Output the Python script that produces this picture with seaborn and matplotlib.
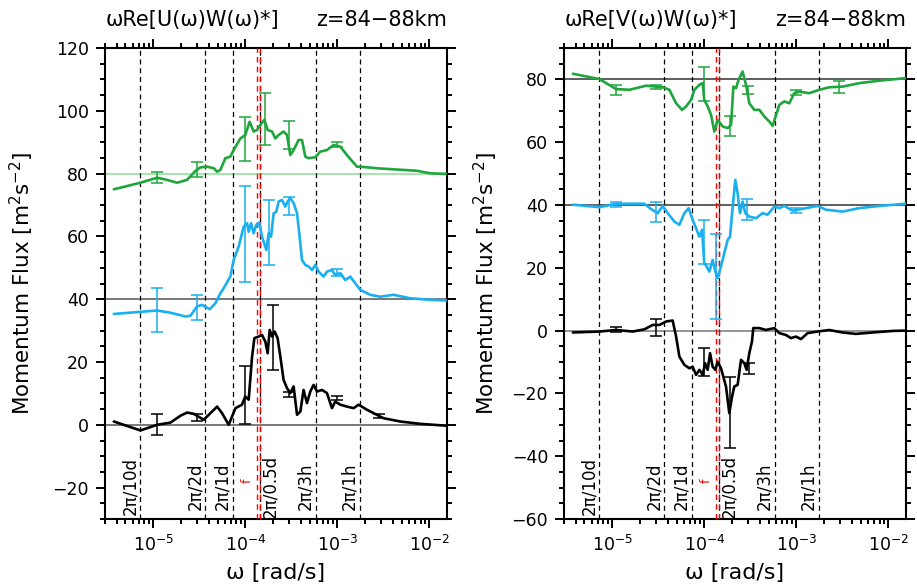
import numpy as np
import pandas as pd
import matplotlib
matplotlib.use("Agg")
import matplotlib.pyplot as plt
import matplotlib.transforms as mtransforms
from matplotlib.ticker import LogLocator, NullFormatter, MultipleLocator
import seaborn as sns

sns.set_style("ticks")
plt.rcParams['font.family'] = ['DejaVu Sans']
plt.rcParams['mathtext.fontset'] = 'dejavusans'
plt.rcParams['text.color'] = 'black'
plt.rcParams['axes.labelcolor'] = 'black'
plt.rcParams['axes.edgecolor'] = 'black'
plt.rcParams['xtick.color'] = 'black'
plt.rcParams['ytick.color'] = 'black'

# ---------------- data (log10 of omega [rad/s], plotted flux values) ----------------
# Left panel: wRe[U W*]
U_green_log10w = [-5.427, -5.138, -4.957, -4.85, -4.740, -4.631, -4.55, -4.487, -4.414, -4.34,
                  -4.306, -4.27, -4.216, -4.162, -4.126, -4.053, -4.0, -3.953, -3.909, -3.872,
                  -3.836, -3.793, -3.757, -3.709, -3.674, -3.638, -3.584, -3.547, -3.511, -3.475,
                  -3.421, -3.384, -3.348, -3.312, -3.24, -3.186, -3.113, -3.041, -2.968, -2.896,
                  -2.787, -2.752, -2.571, -2.137, -1.992, -1.811]
U_green_vals = [75.0, 77.1, 78.7, 78.0, 77.1, 78.0, 80.6, 82.0, 82.2, 81.7,
                80.6, 81.2, 84.9, 85.4, 87.5, 91.2, 92.3, 96.5, 93.4, 93.9,
                95.5, 97.1, 93.9, 93.4, 91.2, 92.3, 93.4, 92.3, 85.9, 87.5,
                90.7, 90.7, 85.4, 84.9, 85.2, 87.0, 87.5, 89.1, 88.6, 85.9,
                82.2, 82.2, 81.7, 80.9, 80.1, 79.9]

U_blue_log10w = [-5.427, -4.957, -4.812, -4.650, -4.596, -4.523, -4.469, -4.386, -4.324, -4.27,
                 -4.234, -4.162, -4.126, -4.072, -4.017, -3.98, -3.963, -3.937, -3.909, -3.88,
                 -3.85, -3.818, -3.771, -3.746, -3.72, -3.692, -3.663, -3.638, -3.601, -3.565,
                 -3.54, -3.511, -3.475, -3.438, -3.41, -3.384, -3.348, -3.312, -3.275, -3.24,
                 -3.204, -3.149, -3.113, -3.059, -3.023, -2.968, -2.914, -2.86, -2.752, -2.643,
                 -2.534, -2.39, -2.21, -1.992, -1.811]
U_blue_vals = [35.3, 36.4, 35.7, 34.5, 34.7, 37.7, 38.2, 36.8, 38.7, 41.9,
               43.5, 47.2, 52.5, 56.7, 63.1, 64.2, 61.5, 64.2, 61.0, 63.7,
               64.4, 59.9, 55.7, 61.0, 59.9, 67.3, 67.9, 71.1, 71.6, 69.5,
               71.1, 72.2, 70.6, 67.4, 59.9, 52.5, 50.9, 50.4, 49.3, 50.9,
               48.8, 47.2, 48.8, 49.3, 47.7, 48.3, 46.1, 47.2, 43.0, 41.4,
               40.8, 41.4, 40.3, 39.8, 39.6]

U_black_log10w = [-5.427, -5.138, -4.957, -4.812, -4.703, -4.631, -4.560, -4.451, -4.306, -4.252,
                  -4.18, -4.107, -4.035, -4.0, -3.963, -3.926, -3.901, -3.855, -3.818, -3.782,
                  -3.757, -3.735, -3.709, -3.681, -3.649, -3.619, -3.584, -3.547, -3.511, -3.475,
                  -3.438, -3.402, -3.367, -3.330, -3.294, -3.258, -3.221, -3.167, -3.113, -3.059,
                  -3.023, -2.968, -2.896, -2.824, -2.77, -2.679, -2.499, -2.317, -2.1, -1.811]
U_black_vals = [1.05, -1.8, 0.0, 0.7, 2.9, 3.9, 3.5, 1.6, 5.8, 3.7,
                0.0, 5.3, 6.4, 9.0, 8.0, 21.7, 27.6, 28.1, 28.6, 26.5,
                22.8, 30.2, 28.1, 29.7, 27.6, 21.7, 14.3, 11.7, 10.1, 12.2,
                3.2, 4.2, 11.1, 6.9, 10.6, 12.7, 10.6, 11.1, 10.1, 5.3,
                7.4, 6.4, 5.8, 5.3, 6.4, 4.8, 2.1, 1.05, 0.3, -0.3]

# error bars (log10 omega, low, high)
U_green_err_log10w = [-4.957, -4.523, -4.0, -3.79, -3.525, -3.004]
U_green_err_lo = [76.9, 79.0, 84.1, 89.1, 87.8, 88.6]
U_green_err_hi = [80.6, 83.8, 97.9, 105.8, 96.9, 90.2]
U_blue_err_log10w = [-4.957, -4.523, -4.0, -3.746, -3.525, -3.004]
U_blue_err_lo = [29.4, 33.4, 45.6, 50.9, 66.8, 47.5]
U_blue_err_hi = [43.7, 41.2, 76.2, 71.6, 72.5, 49.5]
U_black_err_log10w = [-4.957, -4.523, -4.0, -3.698, -3.525, -3.004, -2.553]
U_black_err_lo = [-3.2, 1.3, 0.1, 17.5, 8.7, 8.0, 2.2]
U_black_err_hi = [3.5, 3.5, 18.6, 38.2, 10.3, 9.2, 3.4]

# Right panel: wRe[V W*]
V_green_log10w = [-5.427, -5.138, -4.957, -4.812, -4.631, -4.451, -4.379, -4.306, -4.241, -4.197,
                  -4.143, -4.107, -4.053, -4.017, -4.0, -3.963, -3.926, -3.891, -3.855, -3.8,
                  -3.746, -3.709, -3.684, -3.655, -3.627, -3.584, -3.547, -3.511, -3.457, -3.402,
                  -3.348, -3.294, -3.258, -3.185, -3.131, -3.077, -3.023, -2.968, -2.86, -2.751,
                  -2.643, -2.499, -2.317, -2.1, -1.811]
V_green_vals = [81.8, 80.1, 76.9, 76.7, 78.0, 77.5, 76.7, 72.4, 70.3, 71.4,
                73.5, 76.7, 78.3, 78.8, 73.5, 71.4, 68.7, 63.4, 67.1, 65.0,
                64.5, 65.5, 77.7, 77.2, 79.9, 82.5, 78.3, 72.4, 70.3, 70.3,
                68.2, 66.6, 65.2, 71.9, 73.0, 72.4, 75.6, 76.1, 75.6, 76.7,
                77.5, 77.7, 78.8, 79.6, 80.4]

V_blue_log10w = [-5.427, -5.138, -4.957, -4.65, -4.577, -4.505, -4.451, -4.397, -4.324, -4.27,
                 -4.216, -4.169, -4.126, -4.082, -4.053, -4.024, -4.0, -3.974, -3.945, -3.909,
                 -3.88, -3.855, -3.829, -3.782, -3.746, -3.72, -3.698, -3.663, -3.638, -3.612,
                 -3.584, -3.554, -3.511, -3.438, -3.366, -3.312, -3.24, -3.185, -3.131, -3.041,
                 -2.896, -2.77, -2.679, -2.499, -2.317, -2.1, -1.811]
V_blue_vals = [40.1, 39.3, 40.4, 40.4, 38.7, 37.4, 39.7, 37.4, 34.7, 33.7,
               37.4, 39.0, 35.3, 32.1, 29.9, 32.1, 21.5, 20.4, 18.8, 22.5,
               18.8, 16.7, 19.3, 24.7, 28.9, 29.9, 37.4, 48.0, 43.8, 37.4,
               41.1, 37.4, 36.3, 35.8, 37.4, 36.9, 39.5, 39.0, 39.7, 38.2,
               39.0, 39.7, 38.5, 37.9, 39.0, 39.7, 40.4]

V_black_log10w = [-5.427, -5.138, -4.957, -4.777, -4.65, -4.56, -4.487, -4.414, -4.343, -4.306,
                  -4.27, -4.216, -4.162, -4.126, -4.089, -4.053, -4.017, -3.991, -3.963, -3.937,
                  -3.909, -3.88, -3.855, -3.818, -3.793, -3.764, -3.728, -3.698, -3.674, -3.638,
                  -3.601, -3.565, -3.54, -3.511, -3.482, -3.468, -3.402, -3.33, -3.24, -3.185,
                  -3.113, -3.059, -3.004, -2.95, -2.878, -2.77, -2.643, -2.499, -2.354, -2.173,
                  -1.95, -1.811]
V_black_vals = [-0.6, -0.3, 0.2, -0.3, 0.4, 1.8, 1.8, 2.9, 3.2, -1.9,
                -8.3, -10.9, -12.0, -11.5, -14.1, -12.5, -14.1, -10.4, -12.5, -7.2,
                -11.5, -12.5, -9.9, -12.0, -14.7, -17.8, -26.3, -21.0, -17.8, -17.3,
                -9.3, -10.4, -12.5, -7.2, -3.5, 0.8, 0.8, 0.2, 0.8, -0.8,
                -1.4, -2.4, -1.9, -2.7, -0.8, -0.3, 0.2, -0.6, -1.05, -0.6,
                -0.1, 0.0]

V_green_err_log10w = [-4.957, -4.523, -4.0, -3.72, -3.525, -3.004, -2.535]
V_green_err_lo = [75.1, 76.8, 73.0, 62.1, 75.3, 75.1, 75.8]
V_green_err_hi = [78.3, 78.3, 83.8, 68.5, 78.0, 76.5, 79.6]
V_blue_err_log10w = [-4.957, -4.523, -4.0, -3.872, -3.54, -3.004]
V_blue_err_lo = [39.5, 34.7, 21.2, 3.6, 35.3, 37.4]
V_blue_err_hi = [40.9, 40.9, 35.3, 30.8, 41.9, 39.0]
V_black_err_log10w = [-4.957, -4.523, -4.0, -3.72, -3.511]
V_black_err_lo = [-0.6, -1.6, -14.4, -37.3, -13.8]
V_black_err_hi = [1.1, 3.6, -5.6, -14.8, -10.2]

# reference periods and inertial frequency
period_omegas = [7.27e-6, 3.64e-5, 7.27e-5, 1.454e-4, 5.82e-4, 1.745e-3]
period_labels = ["2\u03c0/10d", "2\u03c0/2d", "2\u03c0/1d", "2\u03c0/0.5d", "2\u03c0/3h", "2\u03c0/1h"]
f_omegas = [1.343e-4, 1.432e-4]

GREEN = "#1ea53c"
BLUE = "#19aff0"
LIGHTGREEN = "#8edc94"

# ---------------- figure ----------------
fig = plt.figure(figsize=(9.17, 5.86), dpi=100)
axL = fig.add_axes([105 / 917, 67 / 586, 342 / 917, 471 / 586])
axR = fig.add_axes([564 / 917, 67 / 586, 342 / 917, 471 / 586])


def draw_series(ax, logw, vals, color):
    df = pd.DataFrame({"omega": np.power(10.0, logw), "flux": vals})
    sns.lineplot(data=df, x="omega", y="flux", ax=ax, color=color, lw=1.9,
                 estimator=None, sort=False, zorder=4)


def draw_err(ax, logw, lo, hi, color):
    x = np.power(10.0, logw)
    lo = np.asarray(lo)
    hi = np.asarray(hi)
    ax.errorbar(x, (lo + hi) / 2, yerr=(hi - lo) / 2, fmt="none", ecolor=color,
                elinewidth=1.1, capsize=4.3, capthick=1.1, zorder=5)


def decorate(ax, ylim, hlines):
    ax.set_xscale("log")
    ax.set_xlim(3.0e-6, 1.55e-2)
    ax.set_ylim(*ylim)
    for y, c in hlines:
        ax.axhline(y, color=c, lw=1.1, zorder=2)
    for om, lab in zip(period_omegas, period_labels):
        ax.axvline(om, color="black", lw=0.9, ls=(0, (4, 3)), zorder=3)
        if lab.endswith("0.5d"):
            tr = mtransforms.offset_copy(ax.get_xaxis_transform(), fig=fig, x=1.0, y=0, units="dots")
            ax.text(om, 0.07, lab, transform=tr, rotation=90, ha="left", va="center",
                    fontsize=12, color="black")
        else:
            tr = mtransforms.offset_copy(ax.get_xaxis_transform(), fig=fig, x=-1.0, y=0, units="dots")
            ax.text(om, 0.07, lab, transform=tr, rotation=90, ha="right", va="center",
                    fontsize=12, color="black")
    for om in f_omegas:
        ax.axvline(om, color="red", lw=1.0, ls=(0, (4, 3)), zorder=3)
    trf = mtransforms.offset_copy(ax.get_xaxis_transform(), fig=fig, x=-3.0, y=0, units="dots")
    ax.text(f_omegas[0], 0.081, "f", transform=trf, rotation=90, ha="right", va="center",
            fontsize=9, color="red")
    ax.xaxis.set_major_locator(LogLocator(base=10, numticks=20))
    ax.xaxis.set_minor_locator(LogLocator(base=10, subs=np.arange(2, 10), numticks=50))
    ax.xaxis.set_minor_formatter(NullFormatter())
    ax.yaxis.set_major_locator(MultipleLocator(20))
    ax.yaxis.set_minor_locator(MultipleLocator(5))
    ax.tick_params(which="both", direction="out", top=True, right=True, width=1.4,
                   labelsize=12.5, colors="black")
    ax.tick_params(which="major", length=6.5)
    ax.tick_params(which="minor", length=3.5)
    ax.tick_params(axis="y", which="major", pad=5)
    ax.tick_params(axis="x", which="major", pad=5)
    for s in ax.spines.values():
        s.set_linewidth(1.5)
        s.set_color("black")
        s.set_visible(True)
    ax.set_xlabel("\u03c9 [rad/s]", fontsize=16, labelpad=6, color="black")


# left panel
draw_series(axL, U_green_log10w, U_green_vals, GREEN)
draw_series(axL, U_blue_log10w, U_blue_vals, BLUE)
draw_series(axL, U_black_log10w, U_black_vals, "black")
draw_err(axL, U_green_err_log10w, U_green_err_lo, U_green_err_hi, GREEN)
draw_err(axL, U_blue_err_log10w, U_blue_err_lo, U_blue_err_hi, BLUE)
draw_err(axL, U_black_err_log10w, U_black_err_lo, U_black_err_hi, "black")
decorate(axL, (-30, 120), [(80, LIGHTGREEN), (40, "#555555"), (0, "#555555")])
axL.set_ylabel("Momentum Flux [m$^2$s$^{-2}$]", fontsize=15.5, labelpad=12, color="black")

# right panel
draw_series(axR, V_green_log10w, V_green_vals, GREEN)
draw_series(axR, V_blue_log10w, V_blue_vals, BLUE)
draw_series(axR, V_black_log10w, V_black_vals, "black")
draw_err(axR, V_green_err_log10w, V_green_err_lo, V_green_err_hi, GREEN)
draw_err(axR, V_blue_err_log10w, V_blue_err_lo, V_blue_err_hi, BLUE)
draw_err(axR, V_black_err_log10w, V_black_err_lo, V_black_err_hi, "black")
decorate(axR, (-60, 90), [(80, "#333333"), (40, "#333333"), (0, "#777777")])
axR.set_ylabel("Momentum Flux [m$^2$s$^{-2}$]", fontsize=15.5, labelpad=8, color="black")

# titles
yt = (586 - 26) / 586
fig.text(106 / 917, yt, "\u03c9Re[U(\u03c9)W(\u03c9)*]", fontsize=15, ha="left", va="baseline", color="black")
fig.text(447 / 917, yt, "z=84\u221288km", fontsize=15, ha="right", va="baseline", color="black")
fig.text(565 / 917, yt, "\u03c9Re[V(\u03c9)W(\u03c9)*]", fontsize=15, ha="left", va="baseline", color="black")
fig.text(906 / 917, yt, "z=84\u221288km", fontsize=15, ha="right", va="baseline", color="black")

fig.savefig("out.png", dpi=100)
